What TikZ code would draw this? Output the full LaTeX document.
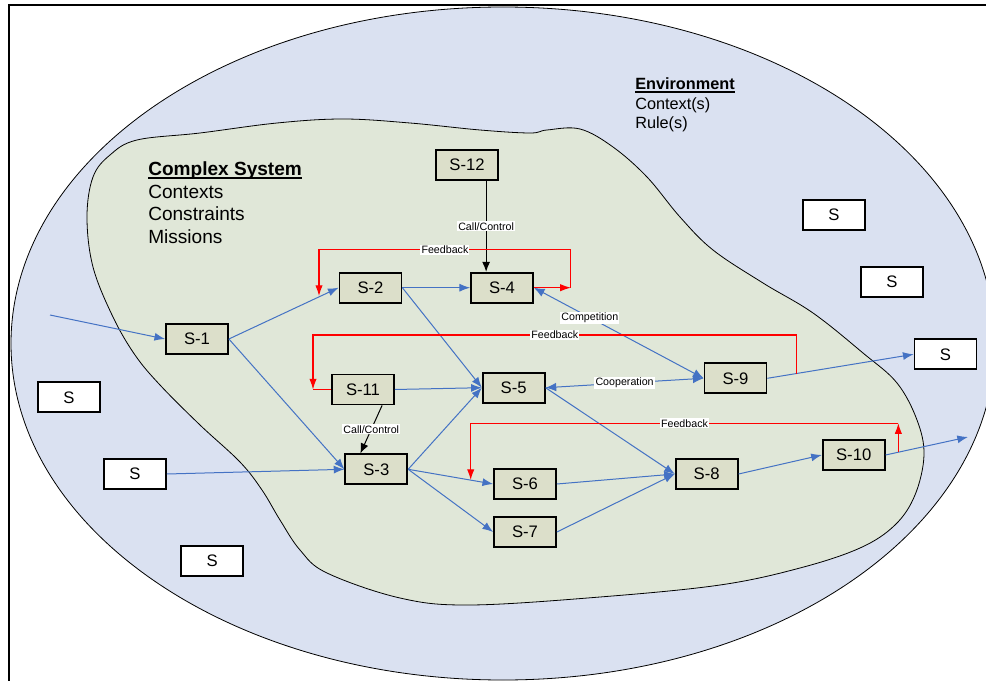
\documentclass[tikz,border=0pt]{standalone}
\usepackage{fontspec}
\setmainfont{Liberation Sans}
\usetikzlibrary{arrows.meta,calc}
\definecolor{envblue}{RGB}{218,225,241}
\definecolor{sysgreen}{RGB}{224,231,216}
\definecolor{boxfill}{RGB}{220,223,202}
\definecolor{linkblue}{RGB}{68,114,196}
\begin{document}
\begin{tikzpicture}[x=0.75pt,y=-0.75pt,
  sbox/.style={draw=black, line width=1.3pt, fill=boxfill, minimum width=46.5pt,
    minimum height=22.5pt, inner sep=0pt, font=\fontsize{12.5}{14}\selectfont},
  extbox/.style={sbox, fill=white},
  flow/.style={draw=linkblue, line width=0.75pt, -{Latex[length=8pt,width=6pt]}},
  both/.style={draw=linkblue, line width=0.75pt,
    {Latex[length=8pt,width=6.5pt]}-{Latex[length=8pt,width=6.5pt]}},
  ctrl/.style={draw=black, line width=0.75pt, -{Latex[length=7.5pt,width=6pt]}},
  fb/.style={draw=red, line width=0.8pt},
  fbarrow/.style={fb, -{Latex[length=8pt,width=5.5pt]}},
  lab/.style={fill=white, inner sep=0.8pt, font=\fontsize{8}{9}\selectfont},
  heading/.style={anchor=base west, inner sep=0pt},
]
\useasboundingbox (0,0) rectangle (986,681);
\clip (0,0) rectangle (986,681);

% environment and system regions
\draw[fill=envblue, line width=0.6pt] (503,343.5) ellipse [x radius=492, y radius=336.5];
\draw[fill=sysgreen, line width=0.6pt] plot[smooth cycle, tension=0.6] coordinates {
  (137,140) (200,133) (277,123) (343,119) (410,123) (480,130) (530,133) (547,130)
  (580,129) (613,147) (647,177) (680,217) (713,250) (763,283) (813,313) (863,353)
  (897,383) (917,420) (924,455) (915,495) (895,525) (860,548) (800,568) (720,585)
  (600,597) (470,605) (400,598) (327,573) (300,550) (280,520) (262,490) (240,462)
  (200,425) (160,385) (135,355) (113,317) (93,267) (87,217) (93,177) (110,155)};

% outer frame
\draw[line width=1.5pt] (9,700) -- (9,5) -- (1000,5);

% headings
\node[heading, font=\bfseries\fontsize{14.3}{17}\selectfont] (cs) at (148,176) {Complex System};
\draw[line width=1.4pt] ($(cs.base west)+(0,2)$) -- ($(cs.base east)+(0,2)$);
\node[heading, font=\fontsize{14.3}{17}\selectfont] (cs1) at (148,198.5) {Contexts};
\node[heading, font=\fontsize{14.3}{17}\selectfont] (cs2) at (148,221) {Constraints};
\node[heading, font=\fontsize{14.3}{17}\selectfont] (cs3) at (148,243.5) {Missions};

\node[heading, font=\bfseries\fontsize{12.2}{15}\selectfont] (env) at (635,90) {Environment};
\draw[line width=1.2pt] ($(env.base west)+(0,2)$) -- ($(env.base east)+(0,2)$);
\node[heading, font=\fontsize{12.2}{15}\selectfont] (env1) at (635,109.3) {Context(s)};
\node[heading, font=\fontsize{12.2}{15}\selectfont] (env2) at (635,128.3) {Rule(s)};

% systems
\node[sbox] (S1) at (197,339) {S-1};
\node[sbox] (S2) at (370.5,287.7) {S-2};
\node[sbox] (S3) at (376.3,469.3) {S-3};
\node[sbox] (S4) at (502,287.7) {S-4};
\node[sbox] (S5) at (513.7,387.7) {S-5};
\node[sbox] (S6) at (525,484) {S-6};
\node[sbox] (S7) at (525,532) {S-7};
\node[sbox] (S8) at (706.7,474) {S-8};
\node[sbox] (S9) at (735.5,378.3) {S-9};
\node[sbox] (S10) at (853.7,455) {S-10};
\node[sbox] (S11) at (363,389.5) {S-11};
\node[sbox] (S12) at (467,165) {S-12};

% external systems
\node[extbox] (Ea) at (834,214.7) {S};
\node[extbox] (Eb) at (892,282) {S};
\node[extbox] (Ec) at (945.5,354.3) {S};
\node[extbox] (Ed) at (69,397.3) {S};
\node[extbox] (Ee) at (135,474) {S};
\node[extbox] (Ef) at (212.3,561) {S};

\coordinate (in1) at (50,315);
\coordinate (out1) at (968,437);

% flows
\draw[flow] (in1) -- (S1.west);
\draw[flow] (S1.east) -- (S2.west);
\draw[flow] (S1.east) -- (S3.west);
\draw[flow] (S2.east) -- (S4.west);
\draw[flow] (S2.east) -- (S5.west);
\draw[flow] (S11.east) -- (S5.west);
\draw[flow] (S3.east) -- (S5.west);
\draw[flow] (Ee.east) -- (S3.west);
\draw[flow] (S3.east) -- (S6.west);
\draw[flow] (S3.east) -- (S7.west);
\draw[flow] (S5.east) -- (S8.west);
\draw[flow] (S6.east) -- (S8.west);
\draw[flow] (S7.east) -- (S8.west);
\draw[flow] (S8.east) -- (S10.west);
\draw[flow] (S10.east) -- (out1);
\draw[flow] (S9.east) -- (Ec.west);
\draw[both] (S5.east) -- node[lab] {Cooperation} (S9.west);
\draw[both] (S4.east) -- node[lab, pos=0.33] {Competition} (S9.west);

% control links
\draw[ctrl] ($(S12.south)!0.6!(S12.south east)$) coordinate (c12)
  -- node[lab] {Call/Control} (c12 |- S4.north);
\draw[ctrl] ($(S11.south)!0.6!(S11.south east)$)
  -- node[lab] {Call/Control} ($(S3.north)!0.5!(S3.north west)$);

% feedback loops
\coordinate (f1a) at ($(S4.east)+(37,0)$);
\coordinate (f1b) at ($(f1a)+(0,-38)$);
\coordinate (f1c) at (319,249.7);
\coordinate (f1d) at (319,296);
\draw[fbarrow] (S4.east) -- (f1a);
\draw[fbarrow] (f1a) -- (f1b) -- node[lab] {Feedback} (f1c) -- (f1d);

\coordinate (f2a) at ($(S9.east)!0.2!(Ec.west)$);
\coordinate (f2c) at (313,335);
\coordinate (f2d) at (313,389.5);
\draw[fbarrow] (f2a) |- node[lab, pos=0.75] {Feedback} (f2c) -- (f2d);
\draw[fb] (f2d) -- (S11.west);

\coordinate (f3a) at ($(S10.east)!0.155!(out1)$);
\coordinate (f3b) at ($(f3a)+(0,-29)$);
\coordinate (f3c) at (470.7,480);
\draw[fbarrow] (f3a) -- (f3b);
\draw[fbarrow] (f3b) -| node[lab, pos=0.25] {Feedback} (f3c);
\end{tikzpicture}
\end{document}
